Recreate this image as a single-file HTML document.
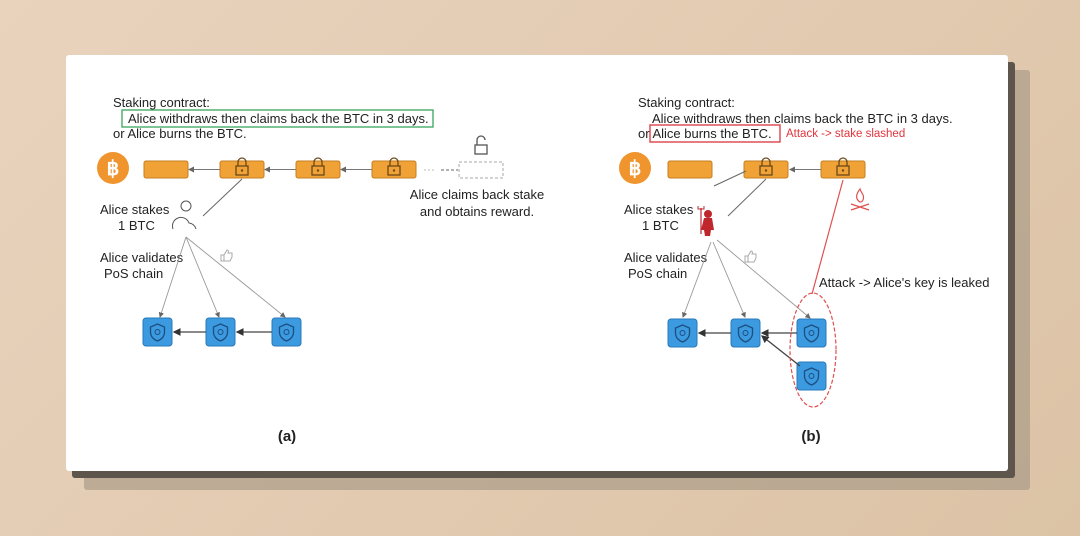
<!DOCTYPE html>
<html><head><style>
html,body{margin:0;padding:0}
body{width:1080px;height:536px;background:linear-gradient(135deg,#e9d3bd,#dcc3a6);position:relative;overflow:hidden;font-family:"Liberation Sans",sans-serif}
.sh2{position:absolute;left:84px;top:70px;width:946px;height:420px;background:#a39582;opacity:.6;border-radius:3px}
.sh1{position:absolute;left:72px;top:62px;width:943px;height:416px;background:#5e554c;border-radius:3px}
.card{position:absolute;left:66px;top:55px;width:942px;height:416px;background:#fff;border-radius:3px}
svg{position:absolute;left:0;top:0}
</style></head><body>
<div class="sh2"></div><div class="sh1"></div><div class="card"></div>
<svg width="1080" height="536" font-family="Liberation Sans, sans-serif">
<defs>
<marker id="ar" markerWidth="6" markerHeight="6" refX="5" refY="3" orient="auto"><path d="M0,0L6,3L0,6z" fill="#666"/></marker>
<marker id="ak" markerWidth="6" markerHeight="6" refX="5" refY="3" orient="auto"><path d="M0,0L6,3L0,6z" fill="#333"/></marker>
<g id="blk"><rect width="44" height="17" rx="2" fill="#f0a236" stroke="#c57f20"/></g>
<g id="lk"><path d="M-4,0v-4a4,4 0 0 1 8,0v4" fill="none" stroke="#6b4a1a" stroke-width="1.3"/><rect x="-6" y="0" width="12" height="9" fill="none" stroke="#6b4a1a" stroke-width="1.3"/><circle cx="0" cy="4.5" r="1.2" fill="#6b4a1a"/></g>
<g id="bl"><rect width="29" height="28" rx="3" fill="#3b9ae0" stroke="#2a78b8"/><path d="M14.5,6l7,3v5c0,5-4,8-7,9c-3-1-7-4-7-9v-5z" fill="none" stroke="#1d4f80" stroke-width="1.3"/><circle cx="14.5" cy="14" r="2.5" fill="none" stroke="#1d4f80"/></g>
<g id="btc"><circle r="16" fill="#f0942e"/><text x="0" y="7" font-size="20" font-weight="bold" fill="#fff" text-anchor="middle">฿</text></g>
<g id="th"><path d="M-5,2h3v6h-3zM-2,2l3-5c1,0 2,1 1,3h4v4l-2,4h-6z" fill="none" stroke="#aaa"/></g>
</defs>
<g font-size="13" fill="#222">
<!-- (a) -->
<text x="113" y="107">Staking contract:</text>
<rect x="122" y="110" width="311" height="17" fill="none" stroke="#3aa35a" stroke-width="1.3"/>
<text x="128" y="123">Alice withdraws then claims back the BTC in 3 days.</text>
<text x="113" y="138">or Alice burns the BTC.</text>
<use href="#btc" x="113" y="168"/>
<use href="#blk" x="144" y="161"/><use href="#blk" x="220" y="161"/><use href="#blk" x="296" y="161"/><use href="#blk" x="372" y="161"/>
<use href="#lk" x="242" y="166"/><use href="#lk" x="318" y="166"/><use href="#lk" x="394" y="166"/>
<g stroke="#777" stroke-width="1"><line x1="220" y1="169.5" x2="189" y2="169.5" marker-end="url(#ar)"/><line x1="296" y1="169.5" x2="265" y2="169.5" marker-end="url(#ar)"/><line x1="372" y1="169.5" x2="341" y2="169.5" marker-end="url(#ar)"/></g>
<line x1="424" y1="170" x2="436" y2="170" stroke="#bbb" stroke-dasharray="2,2"/>
<line x1="441" y1="170" x2="458" y2="170" stroke="#666" stroke-dasharray="3,2"/>
<rect x="459" y="162" width="44" height="16" fill="none" stroke="#aaa" stroke-dasharray="3,2"/>
<g transform="translate(481,146)"><path d="M-4,-1v-5a4,4 0 0 1 8,0" fill="none" stroke="#555" stroke-width="1.3"/><rect x="-6" y="-1" width="12" height="9" fill="none" stroke="#555" stroke-width="1.3"/></g>
<text x="477" y="199" text-anchor="middle">Alice claims back stake</text>
<text x="477" y="216" text-anchor="middle">and obtains reward.</text>
<text x="100" y="214">Alice stakes</text><text x="118" y="230">1 BTC</text>
<circle cx="186" cy="206" r="5" fill="none" stroke="#555"/>
<path d="M173,229a8,8 0 0 1 16,-6a8,8 0 0 1 7,6" fill="none" stroke="#555"/>
<line x1="203" y1="216" x2="242" y2="179" stroke="#666"/>
<text x="100" y="262">Alice validates</text><text x="104" y="278">PoS chain</text>
<use href="#th" x="226" y="253"/>
<g stroke="#999" stroke-width="0.9"><line x1="186" y1="237" x2="160" y2="317" marker-end="url(#ar)"/><line x1="186" y1="237" x2="219" y2="317" marker-end="url(#ar)"/><line x1="186" y1="237" x2="285" y2="317" marker-end="url(#ar)"/></g>
<use href="#bl" x="143" y="318"/><use href="#bl" x="206" y="318"/><use href="#bl" x="272" y="318"/>
<g stroke="#444" stroke-width="1.3"><line x1="206" y1="332" x2="174" y2="332" marker-end="url(#ak)"/><line x1="272" y1="332" x2="237" y2="332" marker-end="url(#ak)"/></g>
<text x="287" y="441" font-size="15" font-weight="bold" text-anchor="middle">(a)</text>
<!-- (b) -->
<text x="638" y="107">Staking contract:</text>
<text x="652" y="123">Alice withdraws then claims back the BTC in 3 days.</text>
<text x="638" y="138">or Alice burns the BTC.</text>
<rect x="650" y="125" width="130" height="17" fill="none" stroke="#d9363e" stroke-width="1.3"/>
<text x="786" y="137" font-size="11.5" fill="#e0353c">Attack -&gt; stake slashed</text>
<use href="#btc" x="635" y="168"/>
<use href="#blk" x="668" y="161"/><use href="#blk" x="744" y="161"/><use href="#blk" x="821" y="161"/>
<use href="#lk" x="766" y="166"/><use href="#lk" x="843" y="166"/>
<line x1="821" y1="169.5" x2="790" y2="169.5" stroke="#777" marker-end="url(#ar)"/>
<line x1="746" y1="171" x2="714" y2="186" stroke="#666"/>
<line x1="728" y1="216" x2="766" y2="179" stroke="#666"/>
<g transform="translate(860,198)" fill="none" stroke="#e05050" stroke-width="1.2"><path d="M0,4c-5,-3-4,-8 0,-13c1,4 5,6 3,11c-1,2-2,2-3,2z"/><path d="M-9,6l18,6M9,6l-18,6"/></g>
<g transform="translate(708,222)" fill="#c0272d"><circle cx="0" cy="-8" r="4"/><path d="M-4,-4h8l2,12h-3l-1,6h-5l-1,-6h-3z"/><path d="M-7,-14v26" stroke="#c0272d" stroke-width="1.2"/><path d="M-10,-16v3h6v-3" stroke="#c0272d" fill="none"/></g>
<text x="624" y="214">Alice stakes</text><text x="642" y="230">1 BTC</text>
<text x="624" y="262">Alice validates</text><text x="628" y="278">PoS chain</text>
<use href="#th" x="750" y="254"/>
<g stroke="#999" stroke-width="0.9"><line x1="711" y1="242" x2="683" y2="317" marker-end="url(#ar)"/><line x1="713" y1="242" x2="745" y2="317" marker-end="url(#ar)"/><line x1="717" y1="240" x2="810" y2="318" marker-end="url(#ar)"/></g>
<line x1="843" y1="180" x2="812" y2="294" stroke="#e05050" stroke-width="1.2"/>
<text x="819" y="287">Attack -&gt; Alice's key is leaked</text>
<use href="#bl" x="668" y="319"/><use href="#bl" x="731" y="319"/><use href="#bl" x="797" y="319"/><use href="#bl" x="797" y="362"/>
<g stroke="#444" stroke-width="1.3"><line x1="731" y1="333" x2="699" y2="333" marker-end="url(#ak)"/><line x1="797" y1="333" x2="762" y2="333" marker-end="url(#ak)"/><line x1="800" y1="366" x2="762" y2="336" marker-end="url(#ak)"/></g>
<ellipse cx="813" cy="350" rx="23" ry="57" fill="none" stroke="#e05050" stroke-dasharray="4,2" stroke-width="1.2"/>
<text x="811" y="441" font-size="15" font-weight="bold" text-anchor="middle">(b)</text>
</g>
</svg>
</body></html>
